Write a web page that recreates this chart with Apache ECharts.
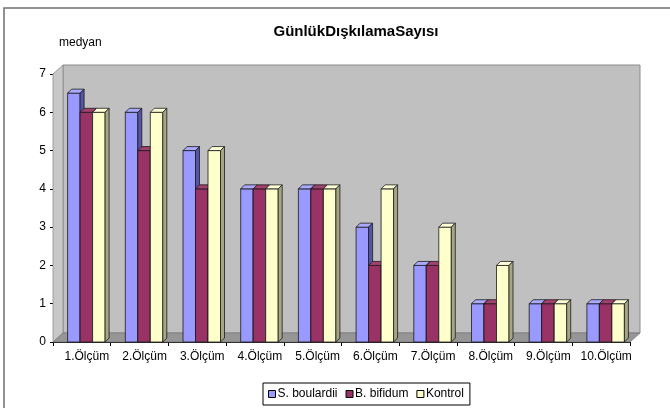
<!DOCTYPE html>
<html>
<head>
<meta charset="utf-8">
<script src="https://cdn.jsdelivr.net/npm/echarts@6/dist/echarts.min.js"></script>
<style>html,body{margin:0;padding:0;background:#fff;}#c{width:670px;height:408px;}</style>
</head>
<body>
<div id="c"></div>
<script>
var categories = ['1.Ölçüm','2.Ölçüm','3.Ölçüm','4.Ölçüm','5.Ölçüm','6.Ölçüm','7.Ölçüm','8.Ölçüm','9.Ölçüm','10.Ölçüm'];
var sBoulardii = [6.5, 6, 5, 4, 4, 3, 2, 1, 1, 1];
var bBifidum = [6, 5, 4, 4, 4, 2, 2, 1, 1, 1];
var kontrol = [6, 6, 5, 4, 4, 4, 3, 2, 1, 1];
var seriesNames = ['S. boulardii', 'B. bifidum', 'Kontrol'];
var yTicks = [0, 1, 2, 3, 4, 5, 6, 7];

var FONT = 'Liberation Sans, Arial, sans-serif';
var BAR_W = 12.5, DX = 4, DY = -4, GROUP_SHIFT = 4.5;
var WALL_DX = 10, WALL_DY = -9;

var palettes = [
  {front: '#9999ff', top: '#a9a9ff', side: '#5555a8'},
  {front: '#993366', top: '#a3406f', side: '#5a1d3c'},
  {front: '#ffffcc', top: '#ffffd8', side: '#a6a685'}
];

function barRenderer(idx) {
  return function (params, api) {
    var cat = api.value(0), val = api.value(1);
    var c = api.coord([cat, 0]);
    var t = api.coord([cat, val]);
    var x = c[0] + GROUP_SHIFT - 1.5 * BAR_W + idx * BAR_W;
    var yb = c[1], yt = t[1];
    var p = palettes[idx];
    var st = {stroke: '#1a1a1a', lineWidth: 0.8};
    return {
      type: 'group',
      children: [
        {type: 'rect', shape: {x: x, y: yt, width: BAR_W, height: yb - yt},
         style: Object.assign({fill: p.front}, st)},
        {type: 'polygon', shape: {points: [[x, yt], [x + DX, yt + DY], [x + BAR_W + DX, yt + DY], [x + BAR_W, yt]]},
         style: Object.assign({fill: p.top}, st)},
        {type: 'polygon', shape: {points: [[x + BAR_W, yt], [x + BAR_W + DX, yt + DY], [x + BAR_W + DX, yb + DY], [x + BAR_W, yb]]},
         style: Object.assign({fill: p.side}, st)}
      ]
    };
  };
}

function wallRenderer(params, api) {
  var n = categories.length;
  var bw = api.size([1, 0])[0];
  var p0 = api.coord([0, yTicks[0]]);
  var p1 = api.coord([n - 1, yTicks[yTicks.length - 1]]);
  var xl = p0[0] - bw / 2, xr = p1[0] + bw / 2;
  var yb = p0[1], yt = p1[1];
  return {
    type: 'group',
    children: [
      {type: 'polygon', shape: {points: [[xl + WALL_DX, yt + WALL_DY], [xr + WALL_DX, yt + WALL_DY], [xr + WALL_DX, yb + WALL_DY], [xl + WALL_DX, yb + WALL_DY]]},
       style: {fill: '#c0c0c0', stroke: '#8a8a8a', lineWidth: 1}},
      {type: 'polygon', shape: {points: [[xl, yt], [xl + WALL_DX, yt + WALL_DY], [xl + WALL_DX, yb + WALL_DY], [xl, yb]]},
       style: {fill: '#c8c8c8', stroke: '#8a8a8a', lineWidth: 0.8}},
      {type: 'polygon', shape: {points: [[xl, yb], [xl + WALL_DX, yb + WALL_DY], [xr + WALL_DX, yb + WALL_DY], [xr, yb]]},
       style: {fill: '#969696', stroke: '#7a7a7a', lineWidth: 0.8}}
    ]
  };
}

function toData(arr) { return arr.map(function (v, i) { return [i, v]; }); }

var chart = echarts.init(document.getElementById('c'), null, {renderer: 'canvas'});
var seriesData = [sBoulardii, bBifidum, kontrol];
var series = [{
  type: 'custom', name: 'wall', renderItem: wallRenderer, data: [[0, 0]],
  encode: {x: 0, y: 1}, silent: true, z: 1, clip: false
}];
seriesData.forEach(function (arr, i) {
  series.push({
    type: 'custom', name: seriesNames[i], renderItem: barRenderer(i), data: toData(arr),
    encode: {x: 0, y: 1}, z: 2 + i, clip: false,
    itemStyle: {color: palettes[i].front, borderColor: '#000', borderWidth: 1}
  });
});

chart.setOption({
  animation: false,
  backgroundColor: '#fff',
  graphic: [{type: 'rect', shape: {x: 4, y: 8, width: 700, height: 430},
             style: {fill: 'none', stroke: '#6e6e6e', lineWidth: 1.5}, z: 0}],
  title: [
    {text: 'GünlükDışkılamaSayısı', left: 351, top: 19, textAlign: 'center',
     textStyle: {fontFamily: FONT, fontSize: 15, fontWeight: 'bold', color: '#000'}},
    {text: 'medyan', left: 54, top: 32,
     textStyle: {fontFamily: FONT, fontSize: 12, fontWeight: 'normal', color: '#000'}}
  ],
  legend: {
    data: seriesNames.map(function (n, i) {
      return {name: n, itemStyle: {color: palettes[i].front, borderColor: '#000', borderWidth: 1}};
    }),
    left: 263, top: 383, orient: 'horizontal',
    icon: 'rect', itemWidth: 7, itemHeight: 7, itemGap: 8,
    borderColor: '#000', borderWidth: 1, padding: [5, 6, 5, 5],
    textStyle: {fontFamily: FONT, fontSize: 12, color: '#000', padding: [0, 0, 0, -3]},
    selectedMode: false
  },
  grid: {left: 53, right: 40, top: 74, bottom: 66, containLabel: false},
  xAxis: {
    type: 'category', data: categories, boundaryGap: true,
    axisLine: {lineStyle: {color: '#000', width: 1}},
    axisTick: {show: true, length: 4, lineStyle: {color: '#000'}},
    axisLabel: {fontFamily: FONT, fontSize: 12, color: '#000', margin: 9, interval: 0, padding: [0, 0, 0, 10]},
    splitLine: {show: false}
  },
  yAxis: {
    type: 'value', min: 0, max: 7, interval: 1,
    axisLine: {show: true, lineStyle: {color: '#000', width: 1}},
    axisTick: {show: true, length: 3, lineStyle: {color: '#000'}},
    axisLabel: {fontFamily: FONT, fontSize: 12, color: '#000', margin: 7},
    splitLine: {show: false}
  },
  series: series
});
</script>
</body>
</html>
